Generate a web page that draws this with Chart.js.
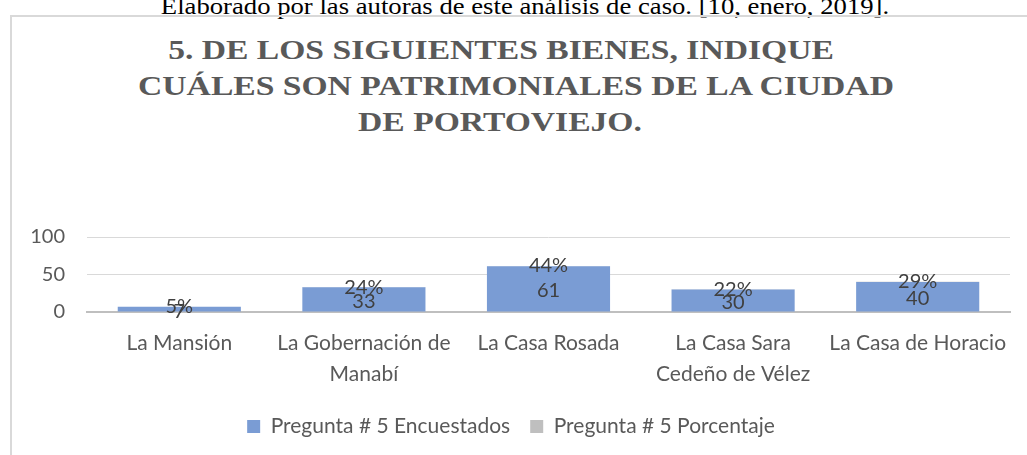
<!DOCTYPE html>
<html>
<head>
<meta charset="utf-8">
<script src="https://cdn.jsdelivr.net/npm/chart.js@4.4.1/dist/chart.umd.min.js"></script>
<style>
  body { margin: 0; width: 1027px; height: 455px; overflow: hidden; background: #fff; position: relative; }
  #caption { position: absolute; left: 25px; width: 1000px; top: -5px; text-align: center;
    font-family: "Liberation Serif", serif; font-size: 23px; line-height: 23px; color: #000; white-space: nowrap;
    transform: scaleX(1.16); }
  #frame { position: absolute; left: 10px; top: 15px; width: 1030px; height: 460px; border: 2px solid #d9d9d9; box-sizing: border-box; }
  .tl { position: absolute; width: 1000px; text-align: center; white-space: nowrap;
    font-family: "Liberation Serif", serif; font-weight: bold; font-size: 28px; line-height: 36px; color: #595959;
    transform: scaleX(1.2); }
  #wrap { position: absolute; left: 12px; top: 17px; width: 1015px; height: 438px; }
</style>
</head>
<body>
<div id="caption">Elaborado por las autoras de este análisis de caso. [10, enero, 2019].</div>
<div id="frame"></div>
<div class="tl" style="left:1px;top:32px">5. DE LOS SIGUIENTES BIENES, INDIQUE</div>
<div class="tl" style="left:16px;top:68px">CUÁLES SON PATRIMONIALES DE LA CIUDAD</div>
<div class="tl" style="left:0px;top:104px">DE PORTOVIEJO.</div>
<div id="wrap"><canvas id="myChart"></canvas></div>
<script>
const categories = ['La Mansión', ['La Gobernación de', 'Manabí'], 'La Casa Rosada', ['La Casa Sara', 'Cedeño de Vélez'], 'La Casa de Horacio'];
const encuestados = [7, 33, 61, 30, 40];
const porcentaje = [0.05, 0.24, 0.44, 0.22, 0.29];
const yTicks = [0, 50, 100];

const FONT = 'Lato, "Open Sans", sans-serif';

// data labels drawn by hand (no datalabels plugin offline)
const labelPlugin = {
  id: 'barLabels',
  afterDatasetsDraw(chart) {
    const ctx = chart.ctx;
    ctx.save();
    ctx.font = '20px ' + FONT;
    ctx.fillStyle = '#404040';
    ctx.textAlign = 'center';
    ctx.textBaseline = 'middle';
    chart.getDatasetMeta(0).data.forEach((bar, i) => {
      ctx.fillText(String(encuestados[i]), bar.x, (bar.y + bar.base) / 2 + 2);
    });
    chart.getDatasetMeta(1).data.forEach((bar, i) => {
      ctx.fillText(Math.round(porcentaje[i] * 100) + '%', bar.x, bar.y);
    });
    ctx.restore();
  }
};

new Chart(document.getElementById('myChart'), {
  type: 'bar',
  data: {
    labels: categories,
    datasets: [{
      label: 'Pregunta # 5 Encuestados',
      data: encuestados,
      backgroundColor: '#7a9cd4',
      borderWidth: 0,
      stack: 's'
    }, {
      label: 'Pregunta # 5 Porcentaje',
      data: porcentaje,
      backgroundColor: '#bfbfbf',
      borderWidth: 0,
      stack: 's'
    }]
  },
  options: {
    responsive: true,
    maintainAspectRatio: false,
    animation: false,
    layout: { padding: { top: 220, right: 17, left: 0, bottom: 8 } },
    datasets: { bar: { categoryPercentage: 1, barPercentage: 0.667 } },
    scales: {
      x: {
        stacked: true,
        grid: { display: false },
        border: { color: '#bfbfbf', width: 2 },
        ticks: { color: '#595959', font: { family: FONT, size: 21, lineHeight: 1.5 }, padding: 7, maxRotation: 0, autoSkip: false },
        afterFit(scale) { scale.height = 84; }
      },
      y: {
        stacked: true,
        min: 0, max: 100,
        afterBuildTicks(scale) { scale.ticks = yTicks.map(v => ({ value: v })); },
        grid: { color: (c) => c.tick.value === 0 ? 'rgba(0,0,0,0)' : '#d9d9d9', drawTicks: false },
        border: { display: false },
        ticks: { color: '#595959', font: { family: FONT, size: 20 }, padding: 22 },
        afterFit(scale) { scale.width = 75; }
      }
    },
    plugins: {
      legend: {
        position: 'bottom',
        labels: { color: '#595959', font: { family: FONT, size: 21 }, boxWidth: 13, boxHeight: 13, padding: 20 }
      },
      tooltip: { enabled: false }
    }
  },
  plugins: [labelPlugin]
});
</script>
</body>
</html>
